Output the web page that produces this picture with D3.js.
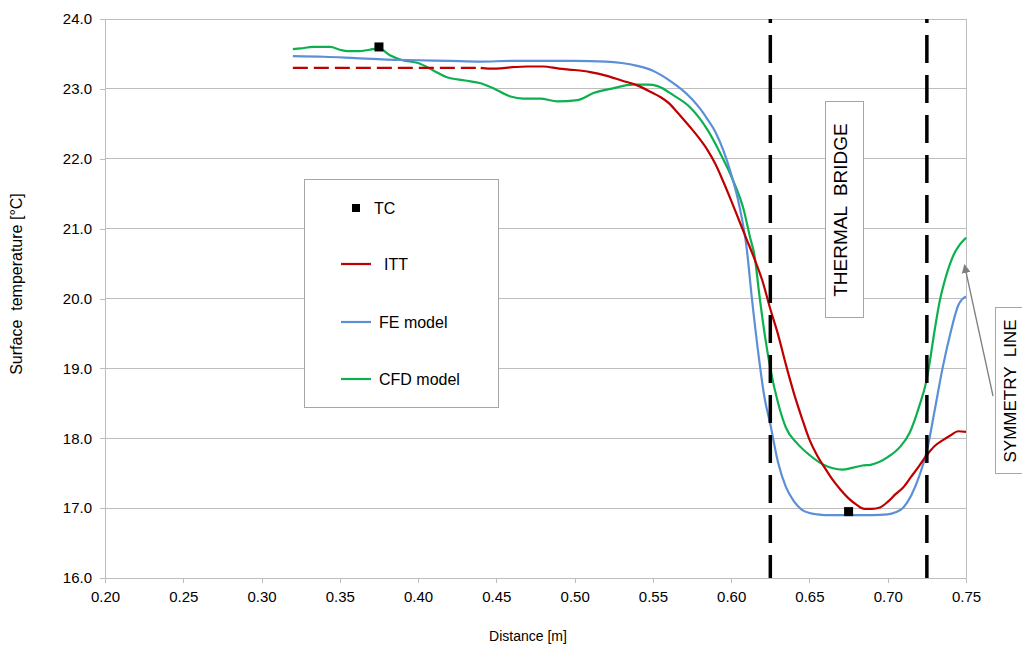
<!DOCTYPE html>
<html><head><meta charset="utf-8">
<script src="https://cdn.jsdelivr.net/npm/d3@7"></script>
<style>
html,body{margin:0;padding:0;background:#fff;}
svg{display:block;font-family:"Liberation Sans",Arial,sans-serif;}
</style></head>
<body><svg id="c" width="1022" height="649"></svg>
<script>
// ---- data ----
const xTicks = [0.20,0.25,0.30,0.35,0.40,0.45,0.50,0.55,0.60,0.65,0.70,0.75];
const yTicks = [16,17,18,19,20,21,22,23,24];
const bridgeEdges = [0.625, 0.725];
const ittSplit = 0.44; // ITT dashed (extrapolated) up to this distance
const tc = [[0.375,23.60],[0.675,16.95]];
const itt = [[0.32,23.30],[0.38,23.30],[0.44,23.30],[0.445,23.29],[0.45,23.29],[0.46,23.31],[0.47,23.32],[0.48,23.32],
 [0.49,23.29],[0.50,23.27],[0.51,23.24],[0.52,23.19],[0.53,23.12],[0.54,23.05],[0.55,22.94],[0.555,22.88],[0.56,22.80],
 [0.565,22.68],[0.57,22.55],[0.575,22.42],[0.58,22.28],[0.585,22.12],[0.59,21.92],[0.595,21.67],[0.60,21.40],[0.605,21.12],
 [0.61,20.84],[0.615,20.56],[0.62,20.25],[0.625,19.85],[0.63,19.48],[0.635,19.05],[0.64,18.65],[0.645,18.30],[0.65,17.98],
 [0.655,17.75],[0.66,17.57],[0.665,17.40],[0.67,17.26],[0.675,17.14],[0.68,17.05],[0.685,16.99],[0.69,16.99],[0.695,17.01],
 [0.70,17.09],[0.705,17.20],[0.71,17.30],[0.715,17.45],[0.72,17.60],[0.725,17.76],[0.73,17.89],[0.735,17.97],[0.74,18.04],
 [0.745,18.10],[0.75,18.09]];
const fe = [[0.32,23.47],[0.34,23.46],[0.36,23.44],[0.38,23.42],[0.40,23.41],[0.42,23.40],[0.44,23.39],[0.46,23.40],[0.48,23.40],
 [0.50,23.40],[0.52,23.39],[0.53,23.37],[0.54,23.33],[0.545,23.30],[0.55,23.26],[0.555,23.20],[0.56,23.13],[0.565,23.05],
 [0.57,22.96],[0.575,22.85],[0.58,22.72],[0.585,22.56],[0.59,22.38],[0.595,22.12],[0.60,21.78],[0.605,21.35],[0.61,20.70],
 [0.613,20.05],[0.618,19.10],[0.621,18.62],[0.625,18.20],[0.63,17.65],[0.635,17.30],[0.64,17.10],[0.645,16.98],[0.65,16.93],
 [0.655,16.91],[0.66,16.90],[0.67,16.90],[0.68,16.90],[0.69,16.90],[0.70,16.91],[0.705,16.94],[0.71,17.01],[0.715,17.18],
 [0.72,17.45],[0.725,17.82],[0.73,18.40],[0.735,19.00],[0.74,19.50],[0.745,19.90],[0.75,20.03]];
const cfd = [[0.32,23.57],[0.325,23.58],[0.333,23.60],[0.344,23.60],[0.35,23.56],[0.355,23.54],[0.362,23.54],[0.369,23.56],
 [0.375,23.58],[0.382,23.48],[0.39,23.41],[0.40,23.37],[0.41,23.26],[0.418,23.17],[0.43,23.12],[0.44,23.08],[0.448,23.01],
 [0.459,22.89],[0.467,22.86],[0.478,22.86],[0.489,22.82],[0.502,22.84],[0.512,22.94],[0.525,23.01],[0.537,23.06],[0.547,23.06],
 [0.553,23.04],[0.563,22.91],[0.574,22.73],[0.585,22.41],[0.593,22.08],[0.601,21.70],[0.608,21.27],[0.612,20.88],[0.615,20.60],
 [0.618,20.05],[0.622,19.40],[0.625,19.00],[0.63,18.50],[0.635,18.15],[0.642,17.93],[0.65,17.76],[0.659,17.62],[0.665,17.57],
 [0.671,17.55],[0.678,17.58],[0.684,17.61],[0.689,17.62],[0.70,17.73],[0.708,17.88],[0.714,18.08],[0.72,18.45],[0.725,18.85],
 [0.73,19.55],[0.733,19.94],[0.737,20.30],[0.742,20.62],[0.746,20.77],[0.75,20.87]];

// ---- layout ----
const svg = d3.select("#c");
const x = d3.scaleLinear().domain([0.2,0.75]).range([105,966]);
const y = d3.scaleLinear().domain([16,24]).range([578,19]);
const gridCol = "#bdbdbd";

// gridlines
svg.append("g").selectAll("line").data(yTicks).join("line")
  .attr("x1",x(0.2)).attr("x2",x(0.75)).attr("y1",d=>y(d)).attr("y2",d=>y(d))
  .attr("stroke",gridCol).attr("stroke-width",1).attr("shape-rendering","crispEdges");
svg.append("line").attr("x1",x(0.75)).attr("x2",x(0.75)).attr("y1",y(24)).attr("y2",y(16))
  .attr("stroke",gridCol).attr("shape-rendering","crispEdges");

// axes
const yAx = svg.append("g").attr("transform",`translate(${x(0.2)},0)`)
  .call(d3.axisLeft(y).tickValues(yTicks).tickFormat(d3.format(".1f")).tickSize(5).tickPadding(8));
const xAx = svg.append("g").attr("transform",`translate(0,${y(16)})`)
  .call(d3.axisBottom(x).tickValues(xTicks).tickFormat(d3.format(".2f")).tickSize(5).tickPadding(8));
[yAx,xAx].forEach(g=>{
  g.selectAll(".domain").attr("stroke",gridCol).attr("shape-rendering","crispEdges");
  g.selectAll(".tick line").attr("stroke",gridCol).attr("shape-rendering","crispEdges");
  g.selectAll("text").attr("fill","#000").style("font-size","15px").style("font-family","Liberation Sans, Arial, sans-serif");
});
yAx.select(".domain").attr("d",`M-5,${y(24)}H0V${y(16)}`);

// axis titles
svg.append("text").attr("x",528).attr("y",641).attr("text-anchor","middle")
  .style("font-size","14px").text("Distance [m]");
svg.append("text").attr("transform","translate(22,284) rotate(-90)").attr("text-anchor","middle")
  .style("font-size","16px").attr("xml:space","preserve").text("Surface  temperature [°C]");

// series
const line = d3.line().x(d=>x(d[0])).y(d=>y(d[1])).curve(d3.curveMonotoneX);
const colors = {itt:"#c00000", fe:"#5b8fd8", cfd:"#0db04e"};
svg.append("path").datum(cfd).attr("d",line).attr("fill","none").attr("stroke",colors.cfd).attr("stroke-width",2.2);
svg.append("path").datum(fe).attr("d",line).attr("fill","none").attr("stroke",colors.fe).attr("stroke-width",2.2);
svg.append("path").datum(itt.filter(d=>d[0]<=ittSplit)).attr("d",line).attr("fill","none")
  .attr("stroke",colors.itt).attr("stroke-width",2.2).attr("stroke-dasharray","15,6");
svg.append("path").datum(itt.filter(d=>d[0]>=ittSplit)).attr("d",line).attr("fill","none")
  .attr("stroke",colors.itt).attr("stroke-width",2.2);

// thermal bridge edges
svg.append("g").selectAll("line").data(bridgeEdges).join("line")
  .attr("x1",d=>x(d)).attr("x2",d=>x(d)).attr("y1",y(24)).attr("y2",y(16))
  .attr("stroke","#000").attr("stroke-width",3.5).attr("stroke-dasharray","28,12").attr("stroke-dashoffset",24);

// TC markers
svg.append("g").selectAll("rect").data(tc).join("rect")
  .attr("x",d=>x(d[0])-4.5).attr("y",d=>y(d[1])-4.5).attr("width",9).attr("height",9).attr("fill","#000");

// legend
const lg = svg.append("g");
lg.append("rect").attr("x",304.5).attr("y",179.5).attr("width",194).attr("height",228)
  .attr("fill","#fff").attr("stroke","#a6a6a6");
lg.append("rect").attr("x",352).attr("y",204).attr("width",8).attr("height",8).attr("fill","#000");
lg.append("text").attr("x",374).attr("y",213.5).style("font-size","16px").text("TC");
const legItems = [{c:colors.itt,t:"ITT",ty:264,tx:384},{c:colors.fe,t:"FE model",ty:322,tx:379},{c:colors.cfd,t:"CFD model",ty:379,tx:379}];
legItems.forEach(d=>{
  lg.append("line").attr("x1",341).attr("x2",371).attr("y1",d.ty).attr("y2",d.ty).attr("stroke",d.c).attr("stroke-width",2.2);
  lg.append("text").attr("x",d.tx).attr("y",d.ty+5.7).style("font-size","16px").text(d.t);
});

// thermal bridge label
svg.append("rect").attr("x",825.5).attr("y",101.5).attr("width",38).attr("height",216)
  .attr("fill","#fff").attr("stroke","#a6a6a6");
svg.append("text").attr("transform","translate(847,210) rotate(-90)").attr("text-anchor","middle")
  .attr("xml:space","preserve").style("font-size","19px").text("THERMAL  BRIDGE");

// symmetry line label + arrow
svg.append("defs").append("marker").attr("id","ah").attr("viewBox","0 0 10 10").attr("refX",9).attr("refY",5)
  .attr("markerWidth",9).attr("markerHeight",9).attr("markerUnits","userSpaceOnUse").attr("orient","auto")
  .append("path").attr("d","M0,0L10,5L0,10z").attr("fill","#7f7f7f");
svg.append("line").attr("x1",993).attr("y1",396).attr("x2",x(0.75)-1.5).attr("y2",265)
  .attr("stroke","#7f7f7f").attr("stroke-width",1.3).attr("marker-end","url(#ah)");
svg.append("rect").attr("x",995.5).attr("y",307.5).attr("width",40).attr("height",166)
  .attr("fill","#fff").attr("stroke","#a6a6a6");
svg.append("text").attr("transform","translate(1016,391) rotate(-90)").attr("text-anchor","middle")
  .attr("xml:space","preserve").style("font-size","17px").text("SYMMETRY  LINE");
</script></body></html>
